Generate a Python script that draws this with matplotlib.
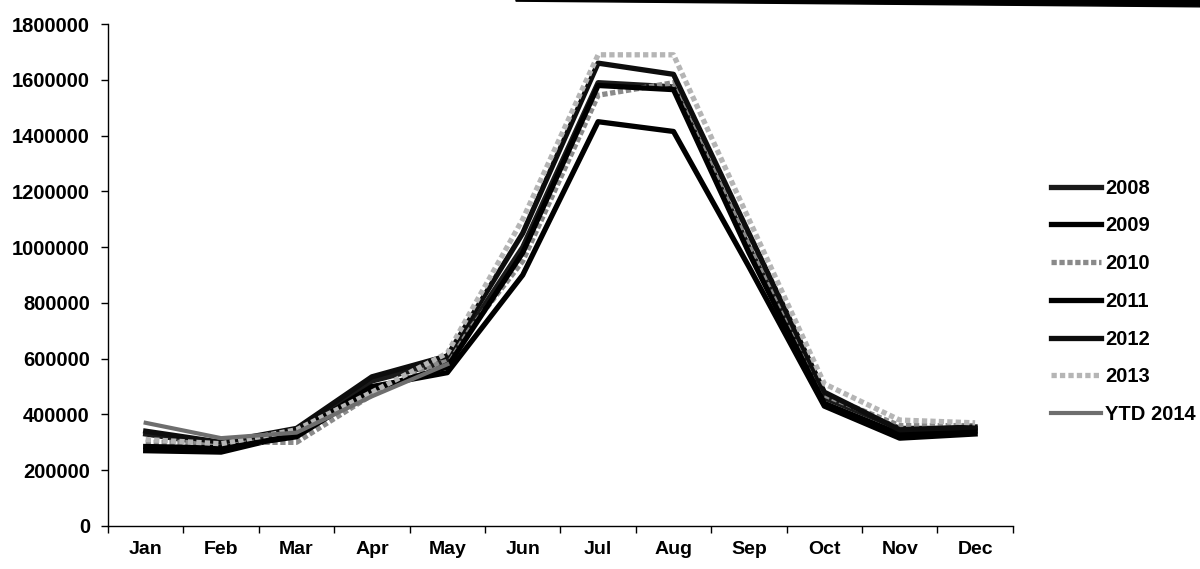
import matplotlib
matplotlib.use('Agg')
import matplotlib.pyplot as plt
from matplotlib.patches import Polygon

months = ['Jan', 'Feb', 'Mar', 'Apr', 'May', 'Jun', 'Jul', 'Aug', 'Sep', 'Oct', 'Nov', 'Dec']

y2008 = [330000, 290000, 340000, 520000, 590000, 1000000, 1590000, 1575000, 1000000, 460000, 350000, 350000]
y2009 = [270000, 265000, 330000, 500000, 550000, 900000, 1450000, 1415000, 930000, 430000, 315000, 330000]
y2010 = [300000, 300000, 300000, 470000, 600000, 950000, 1545000, 1590000, 1020000, 470000, 360000, 360000]
y2011 = [285000, 280000, 320000, 490000, 570000, 980000, 1580000, 1565000, 980000, 440000, 330000, 340000]
y2012 = [340000, 300000, 350000, 535000, 610000, 1050000, 1660000, 1620000, 1050000, 480000, 345000, 355000]
y2013 = [310000, 295000, 345000, 480000, 620000, 1100000, 1690000, 1690000, 1100000, 510000, 380000, 370000]
ytd2014 = [370000, 315000, 335000, 465000, 580000]

plt.rcParams['font.family'] = ['Liberation Sans', 'DejaVu Sans']
plt.rcParams['font.weight'] = 'bold'

fig = plt.figure(figsize=(12, 5.69), dpi=100)
ax = fig.add_axes([0.09, 0.0756, 0.754, 0.882])

x = list(range(len(months)))
ax.plot(x, y2008, color='#1a1a1a', lw=3.8, label='2008')
ax.plot(x, y2009, color='black', lw=3.8, label='2009')
ax.plot(x, y2010, color='#8a8a8a', lw=3.8, ls=(0, (1, 0.5)), label='2010')
ax.plot(x, y2011, color='black', lw=3.8, label='2011')
ax.plot(x, y2012, color='#0d0d0d', lw=3.8, label='2012')
ax.plot(x, y2013, color='#b5b5b5', lw=3.8, ls=(0, (1, 0.6)), label='2013')
ax.plot(x[:len(ytd2014)], ytd2014, color='#6e6e6e', lw=3.0, label='YTD 2014')

ax.set_xlim(-0.5, len(months) - 0.5)
ax.set_ylim(0, 1800000)
ax.set_yticks(range(0, 1800001, 200000))
ax.set_yticklabels([str(v) for v in range(0, 1800001, 200000)], fontsize=14.5, fontweight='bold')

# month labels sit between the boundary ticks
ax.set_xticks([i - 0.5 for i in range(len(months) + 1)])
ax.set_xticklabels([])
ax.set_xticks(x, minor=True)
ax.set_xticklabels(months, minor=True, fontsize=14, fontweight='bold')
ax.tick_params(axis='x', which='minor', length=0, pad=11)
ax.tick_params(axis='x', which='major', length=5, width=1, direction='out')
ax.tick_params(axis='y', length=5, width=1, direction='out', pad=8)

for side in ['top', 'right']:
    ax.spines[side].set_visible(False)
for side in ['left', 'bottom']:
    ax.spines[side].set_linewidth(1.0)

ax.legend(loc='upper left', bbox_to_anchor=(0.869, 0.7), bbox_transform=fig.transFigure,
          frameon=False, fontsize=14.5, handlelength=2.5, handletextpad=0.2,
          labelspacing=0.93, borderaxespad=0)

# dark edge along the top right of the sheet
fig.patches.append(Polygon([[0.43, 1.0], [1.0, 1.0], [1.0, 0.988], [0.43, 0.998]],
                           closed=True, transform=fig.transFigure, color='black'))

fig.savefig('out.png', dpi=100)
